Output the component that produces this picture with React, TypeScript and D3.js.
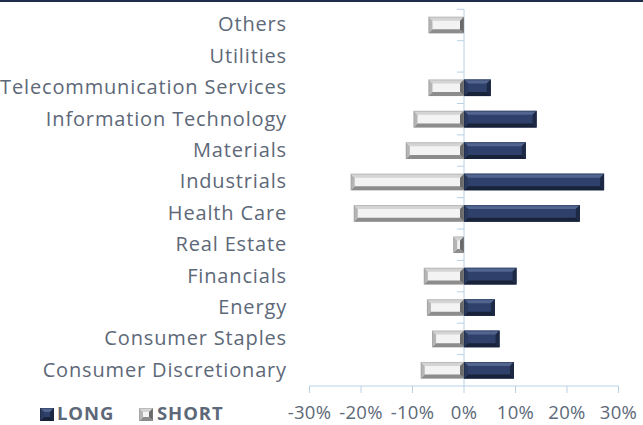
import React from "react";
import * as d3 from "d3";

const categories = [
  "Others",
  "Utilities",
  "Telecommunication Services",
  "Information Technology",
  "Materials",
  "Industrials",
  "Health Care",
  "Real Estate",
  "Financials",
  "Energy",
  "Consumer Staples",
  "Consumer Discretionary",
];
const longValues = [0, 0, 5.2, 14.1, 12.0, 27.2, 22.5, 0, 10.2, 6.0, 6.9, 9.7];
const shortValues = [-6.9, 0, -6.9, -9.8, -11.3, -22.0, -21.4, -2.1, -7.8, -7.2, -6.2, -8.4];
const tickValues = [-30, -20, -10, 0, 10, 20, 30];

const W = 643;
const H = 425;
const FONT = "'Open Sans', 'DejaVu Sans', sans-serif";
const TEXT = "#5d6878";
const AXIS = "#b9d0e4";

type Pal = { c: string; t: string; b: string; l: string; r: string };
const LONG_PAL: Pal = { c: "#2f416b", t: "#51658f", b: "#18233a", l: "#2a3a5f", r: "#1e2a45" };
const SHORT_PAL: Pal = { c: "#f3f3f3", t: "#d4d4d4", b: "#8c8c8c", l: "#b5b5b5", r: "#6a6a6a" };

function Bevel({ x0, x1, y0, y1, pal }: { x0: number; x1: number; y0: number; y1: number; pal: Pal }) {
  const w = x1 - x0;
  const h = y1 - y0;
  if (w <= 0) return null;
  const b = Math.min(4, w / 2, h / 2);
  const pts = (arr: number[][]) => arr.map((p) => p.join(",")).join(" ");
  return (
    <g>
      <rect x={x0} y={y0} width={w} height={h} fill={pal.c} />
      <polygon points={pts([[x0, y0], [x1, y0], [x1 - b, y0 + b], [x0 + b, y0 + b]])} fill={pal.t} />
      <polygon points={pts([[x0, y1], [x1, y1], [x1 - b, y1 - b], [x0 + b, y1 - b]])} fill={pal.b} />
      <polygon points={pts([[x0, y0], [x0 + b, y0 + b], [x0 + b, y1 - b], [x0, y1]])} fill={pal.l} />
      <polygon points={pts([[x1, y0], [x1 - b, y0 + b], [x1 - b, y1 - b], [x1, y1]])} fill={pal.r} />
      <rect x={x0 + 0.5} y={y0 + 0.5} width={w - 1} height={h - 1} fill="none" stroke={pal.b} strokeOpacity={0.35} strokeWidth={1} />
    </g>
  );
}

export default function App() {
  const x = d3.scaleLinear().domain([-30, 30]).range([309.5, 618.5]);
  const y = d3.scaleBand<string>().domain(categories).range([9.3, 386]).paddingInner(0.47).paddingOuter(0.235);
  const band = d3.scaleBand<string>().domain(categories).range([9.3, 386]);
  const x0 = x(0);
  const axisY = 386;

  return (
    <svg width={W} height={H} style={{ position: "absolute", left: 0, top: 0, background: "#fff" }} fontFamily={FONT}>
      <rect x={0} y={0} width={W} height={2} fill="#1f2d4d" />
      <line x1={x0} x2={x0} y1={9.3} y2={axisY} stroke={AXIS} strokeWidth={1} />
      {categories.map((c) => (
        <line key={"ct" + c} x1={x0 - 7} x2={x0} y1={band(c)!} y2={band(c)!} stroke={AXIS} strokeWidth={1} />
      ))}
      <line x1={x(-30)} x2={x(30)} y1={axisY} y2={axisY} stroke={AXIS} strokeWidth={1} />
      {tickValues.map((t) => (
        <g key={"t" + t}>
          <line x1={x(t)} x2={x(t)} y1={axisY} y2={axisY + 7} stroke={AXIS} strokeWidth={1} />
          <text x={x(t)} y={419} textAnchor="middle" fontSize={18.5} letterSpacing={0.3} fill={TEXT}>
            {t + "%"}
          </text>
        </g>
      ))}
      {categories.map((c, i) => {
        const y0 = y(c)!;
        const y1 = y0 + y.bandwidth();
        return (
          <g key={"b" + c}>
            {shortValues[i] < 0 && <Bevel x0={x(shortValues[i])} x1={x0} y0={y0} y1={y1} pal={SHORT_PAL} />}
            {longValues[i] > 0 && <Bevel x0={x0} x1={x(longValues[i])} y0={y0} y1={y1} pal={LONG_PAL} />}
          </g>
        );
      })}
      {categories.map((c) => (
        <text key={"l" + c} x={287} y={band(c)! + band.bandwidth() / 2 + 6.5} textAnchor="end" fontSize={20} letterSpacing={0.85} fill={TEXT}>
          {c}
        </text>
      ))}
      <Bevel x0={40} x1={54} y0={408} y1={421} pal={LONG_PAL} />
      <text x={57} y={420} fontSize={18.5} fontWeight="bold" letterSpacing={0.9} fill={TEXT}>LONG</text>
      <Bevel x0={139} x1={153} y0={408} y1={421} pal={SHORT_PAL} />
      <text x={157} y={420} fontSize={18.5} fontWeight="bold" letterSpacing={0.9} fill={TEXT}>SHORT</text>
    </svg>
  );
}
